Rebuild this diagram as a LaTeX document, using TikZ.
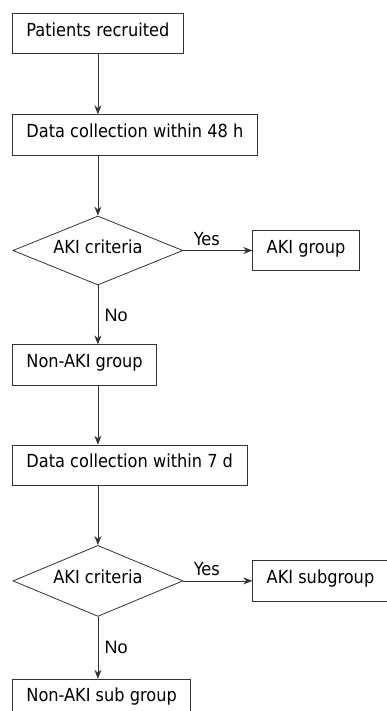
\documentclass[tikz,border=0pt]{standalone}
\usepackage{fontspec}
\setmainfont{DejaVu Sans Condensed}
\newfontfamily\labelfont{Liberation Sans}
\usetikzlibrary{arrows.meta,shapes.geometric,positioning,calc}

\tikzset{
  box/.style={draw=black!80, line width=0.8pt, inner xsep=14pt, inner ysep=2pt,
    minimum height=40.5pt, text height=0.75em, text depth=0.25em,
    font=\fontsize{18}{20}\selectfont},
  crit/.style={draw=black!80, line width=0.8pt, diamond, aspect=2.5, inner sep=0pt,
    minimum width=170pt, text height=0.75em, text depth=0.25em,
    font=\fontsize{18}{20}\selectfont},
  flow/.style={draw=black!80, line width=0.8pt, ->, >={Stealth[length=9pt,width=7pt]}},
  yes/.style={font=\fontsize{18}{20}\selectfont, above=1pt, pos=0.34},
  no/.style={font=\labelfont\fontsize{18}{20}\selectfont, right=3pt, midway}
}

\begin{document}
\begin{tikzpicture}[x=1pt,y=1pt]
  \useasboundingbox (0,0) rectangle (386,-711);
  \draw node[box, anchor=north west] (pr) at (12,-13) {Patients recruited};
  \draw node[box, below=60pt of pr.south west, anchor=north west] (dc1) {Data collection within 48 h};
  \draw node[crit, minimum height=69pt, anchor=north] (ak1) at ($(pr.south |- dc1.south)+(0,-60pt)$) {AKI criteria};
  \draw node[box, right=69pt of ak1.east] (gr1) {AKI group};
  \draw node[box, anchor=north west] (na1) at ($(ak1.south -| pr.west)+(0,-59pt)$) {Non-AKI group};
  \draw node[box, below=59pt of na1.south west, anchor=north west] (dc2) {Data collection within 7 d};
  \draw node[crit, minimum height=71pt, anchor=north] (ak2) at ($(pr.south |- dc2.south)+(0,-59pt)$) {AKI criteria};
  \draw node[box, right=69pt of ak2.east] (gr2) {AKI subgroup};
  \draw node[box, anchor=north west] (na2) at ($(ak2.south -| pr.west)+(0,-62pt)$) {Non-AKI sub group};

  \draw[flow] (pr.south) -- (pr.south |- dc1.north);
  \draw[flow] (ak1.north |- dc1.south) -- (ak1.north);
  \draw[flow] (ak1.east) -- node[yes] {Yes} (gr1.west);
  \draw[flow] (ak1.south) -- node[no] {No} (ak1.south |- na1.north);
  \draw[flow] (ak1.south |- na1.south) -- (ak1.south |- dc2.north);
  \draw[flow] (ak2.north |- dc2.south) -- (ak2.north);
  \draw[flow] (ak2.east) -- node[yes] {Yes} (gr2.west);
  \draw[flow] (ak2.south) -- node[no] {No} (ak2.south |- na2.north);
\end{tikzpicture}
\end{document}
